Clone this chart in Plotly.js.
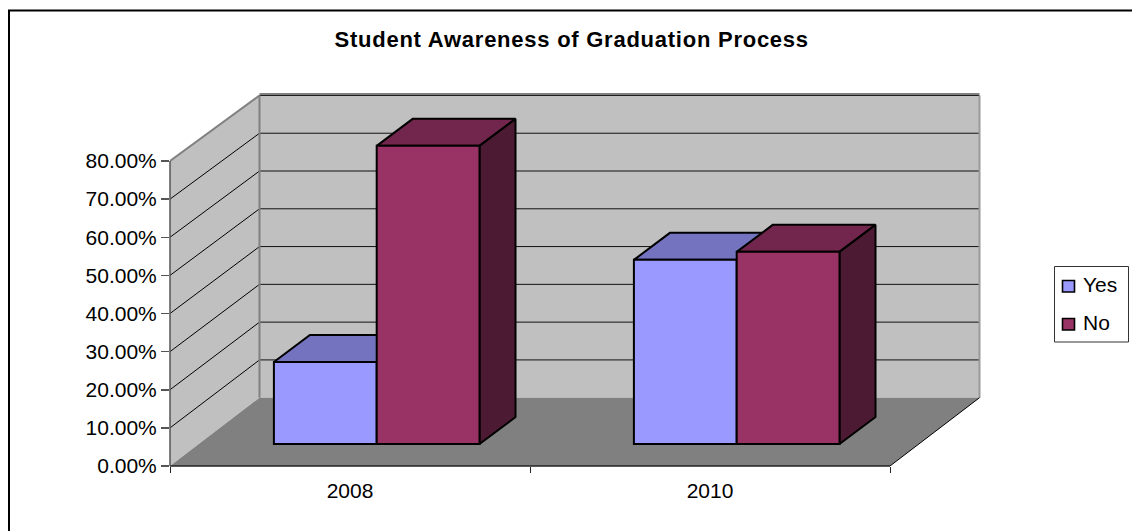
<!DOCTYPE html>
<html>
<head>
<meta charset="utf-8">
<script src="https://cdn.plot.ly/plotly-3.0.1.min.js"></script>
<style>html,body{margin:0;padding:0;background:#fff}#chart{width:1132px;height:531px}.gtitle{letter-spacing:0.75px}</style>
</head>
<body>
<div id="chart"></div>
<script>
const chartTitle = 'Student Awareness of Graduation Process';
const categories = ['2008', '2010'];
const seriesNames = ['Yes', 'No'];
const yesValues = [21.5, 48.3];
const noValues = [78.2, 50.4];
const yTicks = [0, 10, 20, 30, 40, 50, 60, 70, 80];
const yTickLabels = ['0.00%', '10.00%', '20.00%', '30.00%', '40.00%', '50.00%', '60.00%', '70.00%', '80.00%'];

const yesFront = '#9999FF', yesTop = '#7373BF', yesSide = '#4D4D80';
const noFront = '#993366', noTop = '#73264D', noSide = '#4D1A33';
const wallColor = '#C0C0C0', floorColor = '#808080';
const font = 'Liberation Sans, Arial, sans-serif';

// Plot frame in page pixels
const W = 1132, H = 531, L = 170, R = 985, B = 466, T = 90;
const pxPerCat = 360, pxPerPct = 3.8125;
const xRange = [-0.5, -0.5 + (R - L) / pxPerCat];
const yRange = [0, (B - T) / pxPerPct];
const px = x => (x - L) / (R - L);
const py = y => (B - y) / (B - T);

// Oblique projection
const wallDx = 89.5 / pxPerCat, wallDy = 68.3 / pxPerPct, wallScale = 0.991;
const barShiftX = 26.7 / pxPerCat, barBase = 22 / pxPerPct;
const barDx = 36 / pxPerCat, barDy = 27 / pxPerPct;
const barW = 102.8 / pxPerCat;
const xMin = -0.5, xMax = 1.5, vMax = yTicks[yTicks.length - 1];

const wallY = v => wallDy + v * wallScale;
const poly = (xs, ys, fill, lineColor, lineW) => ({
  type: 'scatter', mode: 'lines', x: xs, y: ys, xaxis: 'x', yaxis: 'y',
  fill: 'toself', fillcolor: fill, line: {color: lineColor, width: lineW, shape: 'linear'},
  showlegend: false, hoverinfo: 'skip'
});

const polyPath = (xs, ys) => 'M' + xs.map((x, i) => x + ',' + ys[i]).join('L') + 'Z';
const shapes = [];
// Walls and floor
shapes.push({type: 'path', layer: 'below', xref: 'x', yref: 'y', line: {width: 0}, fillcolor: wallColor,
  path: polyPath([xMin, xMin + wallDx, xMin + wallDx, xMin], [0, wallY(0), wallY(vMax), vMax])});
shapes.push({type: 'path', layer: 'below', xref: 'x', yref: 'y', line: {width: 0}, fillcolor: wallColor,
  path: polyPath([xMin + wallDx, xMax + wallDx, xMax + wallDx, xMin + wallDx], [wallY(0), wallY(0), wallY(vMax), wallY(vMax)])});
shapes.push({type: 'path', layer: 'below', xref: 'x', yref: 'y', line: {width: 0}, fillcolor: floorColor,
  path: polyPath([xMin, xMin + wallDx, xMax + wallDx, xMax], [0, wallY(0), wallY(0), 0])});
// Gridlines through the side wall and back wall
yTicks.slice(1).forEach(v => {
  const last = v === vMax;
  shapes.push({type: 'line', layer: 'below', xref: 'x', yref: 'y', x0: xMin, y0: v, x1: xMin + wallDx, y1: wallY(v),
    line: {color: last ? '#808080' : '#000', width: last ? 2 : 1}});
  shapes.push({type: 'line', layer: 'below', xref: 'x', yref: 'y', x0: xMin + wallDx, y0: wallY(v), x1: xMax + wallDx, y1: wallY(v),
    line: {color: '#111', width: 1}});
});
// Wall edges
shapes.push({type: 'line', layer: 'below', xref: 'x', yref: 'y', x0: xMin + wallDx, x1: xMin + wallDx, y0: wallY(0), y1: wallY(vMax), line: {color: '#808080', width: 2}});
shapes.push({type: 'line', layer: 'below', xref: 'x', yref: 'y', x0: xMax + wallDx, x1: xMax + wallDx, y0: wallY(0), y1: wallY(vMax), line: {color: '#999', width: 2}});
shapes.push({type: 'line', layer: 'below', xref: 'x', yref: 'y', x0: xMin + wallDx, x1: xMax + wallDx, y0: wallY(vMax) + 0.35, y1: wallY(vMax) + 0.35, line: {color: '#808080', width: 2}});
// Axis lines and floor edge
shapes.push({type: 'line', layer: 'below', xref: 'x', yref: 'y', x0: xMax, y0: 0, x1: xMax + wallDx, y1: wallY(0), line: {color: '#000', width: 1}});
shapes.push({type: 'line', xref: 'x', yref: 'paper', x0: xMin, x1: xMax, y0: 0, y1: 0, line: {color: '#222', width: 1.5}});
shapes.push({type: 'line', xref: 'paper', yref: 'y', x0: 0, x1: 0, y0: 0, y1: vMax, line: {color: '#555', width: 1.5}});
// Outer frame
shapes.push({type: 'line', xref: 'paper', yref: 'paper', x0: px(9), x1: px(9), y0: py(10.5), y1: py(H + 5), line: {color: '#000', width: 2}});
shapes.push({type: 'line', xref: 'paper', yref: 'paper', x0: px(8), x1: px(W + 5), y0: py(10.5), y1: py(10.5), line: {color: '#000', width: 2}});
// Legend box and swatches
shapes.push({type: 'rect', xref: 'paper', yref: 'paper', x0: px(1054.5), x1: px(1128.5), y0: py(266.5), y1: py(342), line: {color: '#333', width: 1}, fillcolor: '#fff'});
shapes.push({type: 'rect', xref: 'paper', yref: 'paper', x0: px(1062.5), x1: px(1074.5), y0: py(280.5), y1: py(292), line: {color: '#000', width: 1.6}, fillcolor: yesFront});
shapes.push({type: 'rect', xref: 'paper', yref: 'paper', x0: px(1062.5), x1: px(1074.5), y0: py(318.5), y1: py(330), line: {color: '#000', width: 1.6}, fillcolor: noFront});

const annotations = [
  {text: seriesNames[0], xref: 'paper', yref: 'paper', x: px(1083), y: py(284), xanchor: 'left', yanchor: 'middle', showarrow: false, xshift: -2, font: {family: font, size: 21, color: '#000'}},
  {text: seriesNames[1], xref: 'paper', yref: 'paper', x: px(1083), y: py(322), xanchor: 'left', yanchor: 'middle', showarrow: false, xshift: -2, font: {family: font, size: 21, color: '#000'}}
];

// Faces of each bar, computed from the values
const centers = categories.map((c, i) => i + barShiftX);
const faces = [];
function addFaces(values, x0Of, topColor, sideColor) {
  values.forEach((v, i) => {
    const x0 = x0Of(i), x1 = x0 + barW, yT = barBase + v;
    faces.push(poly([x0, x0 + barDx, x1 + barDx, x1, x0], [yT, yT + barDy, yT + barDy, yT, yT], topColor, '#000', 2));
    faces.push(poly([x1, x1 + barDx, x1 + barDx, x1, x1], [yT, yT + barDy, barBase + barDy, barBase, yT], sideColor, '#000', 2));
  });
}
addFaces(yesValues, i => centers[i] - barW, yesTop, yesSide);
addFaces(noValues, i => centers[i], noTop, noSide);

const barCommon = {type: 'bar', x: centers, base: [barBase, barBase], xaxis: 'x2', yaxis: 'y2', hoverinfo: 'skip', showlegend: false};
const bars = [
  Object.assign({}, barCommon, {name: seriesNames[0], y: yesValues, marker: {color: yesFront, line: {color: '#000', width: 2}}}),
  Object.assign({}, barCommon, {name: seriesNames[1], y: noValues, marker: {color: noFront, line: {color: '#000', width: 2}}})
];

const layout = {
  width: W, height: H,
  margin: {l: L, r: W - R, t: T, b: H - B, pad: 0},
  paper_bgcolor: '#fff', plot_bgcolor: 'rgba(0,0,0,0)',
  showlegend: false, hovermode: false,
  barmode: 'group', bargap: 1 - 2 * barW, bargroupgap: 0,
  title: {text: '<b>' + chartTitle + '</b>', xref: 'container', yref: 'container', x: 571.7 / W, y: 1 - 39 / H, xanchor: 'center', yanchor: 'middle', font: {family: font, size: 22, color: '#000'}},
  xaxis: {
    type: 'linear', range: xRange, fixedrange: true, showgrid: false, zeroline: false, showline: false,
    tickmode: 'array', tickvals: categories.map((c, i) => i), ticktext: categories, ticks: '',
    ticklabelstandoff: 10, tickfont: {family: font, size: 21, color: '#000'},
    minor: {tickmode: 'array', tickvals: [xMin, (xMin + xMax) / 2, xMax], ticks: 'outside', ticklen: 6, tickcolor: '#222', tickwidth: 1, showgrid: false}
  },
  yaxis: {
    type: 'linear', range: yRange, fixedrange: true, showgrid: false, zeroline: false, showline: false,
    tickmode: 'array', tickvals: yTicks, ticktext: yTickLabels, ticks: 'outside', ticklen: 8, tickwidth: 1.5, tickcolor: '#555',
    ticklabelstandoff: 0, tickfont: {family: font, size: 21, color: '#000'}
  },
  xaxis2: {type: 'linear', range: xRange, overlaying: 'x', anchor: 'y2', visible: false, fixedrange: true},
  yaxis2: {type: 'linear', range: yRange, overlaying: 'y', anchor: 'x2', visible: false, fixedrange: true},
  shapes, annotations
};

Plotly.newPlot('chart', [...faces, ...bars], layout, {displayModeBar: false, staticPlot: true});
</script>
</body>
</html>
